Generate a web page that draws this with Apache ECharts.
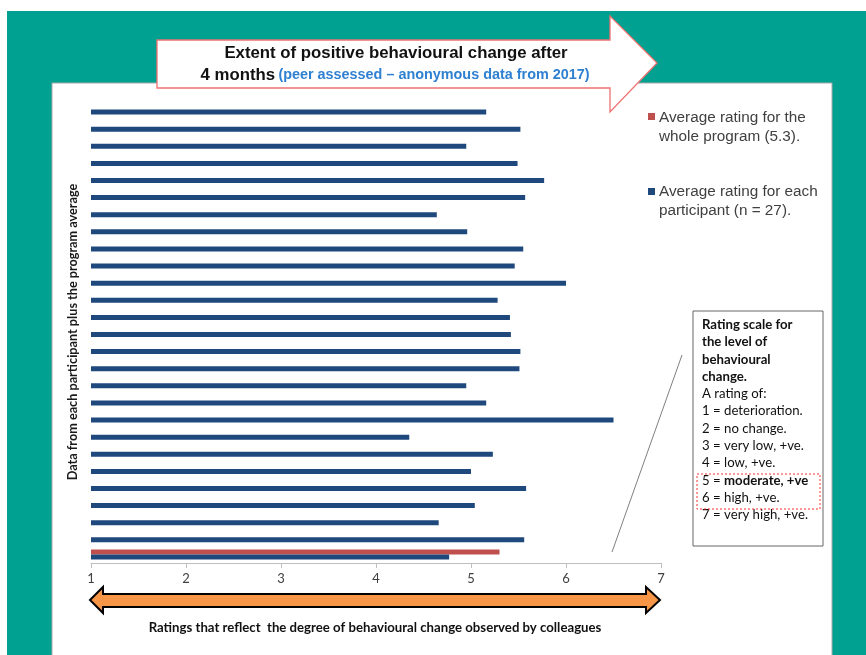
<!DOCTYPE html>
<html><head><meta charset="utf-8">
<script src="https://cdn.jsdelivr.net/npm/echarts@6/dist/echarts.min.js"></script>
<style>html,body{margin:0;padding:0;background:#fff}#c{width:866px;height:655px}</style>
</head><body><div id="c"></div>
<script>
// ---- data (top to bottom) ----
const categories = ['P1','P2','P3','P4','P5','P6','P7','P8','P9','P10','P11','P12','P13','P14',
  'P15','P16','P17','P18','P19','P20','P21','P22','P23','P24','P25','P26','P27 / Program'];
const participantRatings = [5.16,5.52,4.95,5.49,5.77,5.57,4.64,4.96,5.55,5.46,6.00,5.28,5.41,5.42,
  5.52,5.51,4.95,5.16,6.50,4.35,5.23,5.00,5.58,5.04,4.66,5.56,4.77];
const programAverage = [null,null,null,null,null,null,null,null,null,null,null,null,null,null,
  null,null,null,null,null,null,null,null,null,null,null,null,5.3];
const xTicks = [1,2,3,4,5,6,7];
const seriesNames = ['Average rating for the whole program (5.3).','Average rating for each participant (n = 27).'];
const legendLines = [['Average rating for the','whole program (5.3).'],['Average rating for each','participant (n = 27).']];
const titleLine1 = 'Extent of positive behavioural change after';
const titleLine2a = '4 months';
const titleLine2b = '(peer assessed \u2013 anonymous data from 2017)';
const yAxisTitle = 'Data from each participant plus the program average';
const xAxisTitle = 'Ratings that reflect  the degree of behavioural change observed by colleagues';
const scaleHeader = ['Rating scale for','the level of','behavioural','change.'];
const scaleIntro = 'A rating of:';
const scaleLines = ['1 = deterioration.','2 = no change.','3 = very low, +ve.','4 = low, +ve.','5 = |moderate, +ve','6 = high, +ve.','7 = very high, +ve.'];

const RED = '#C0504D', BLUE = '#1F497D', TEAL = '#00A190';
const CAL = 'Lato, "Open Sans", sans-serif';
const ARI = '"Liberation Sans", Arial, sans-serif';

// rich text for rating scale box
const scaleText = scaleHeader.map(s => '{h|' + s + '}')
  .concat(['{n|' + scaleIntro + '}'])
  .concat(scaleLines.map(s => {
    if (s.indexOf('|') >= 0) { const p = s.split('|'); return '{n|' + p[0] + '}{h|' + p[1] + '}'; }
    return '{n|' + s + '}';
  })).join('\n');

const chart = echarts.init(document.getElementById('c'), null, {renderer: 'canvas'});
chart.setOption({
  backgroundColor: '#ffffff',
  animation: false,
  grid: {left: 91, right: 205, top: 101, bottom: 92, containLabel: false},
  xAxis: {
    type: 'value', min: xTicks[0], max: xTicks[xTicks.length - 1], interval: 1,
    axisLine: {show: true, lineStyle: {color: '#BFBFBF', width: 1}},
    axisTick: {show: true, length: 5, lineStyle: {color: '#BFBFBF'}},
    splitLine: {show: false},
    axisLabel: {color: '#404040', fontFamily: CAL, fontSize: 13, margin: 9}
  },
  yAxis: {
    type: 'category', data: categories, inverse: true,
    axisLine: {show: false}, axisTick: {show: false}, axisLabel: {show: false},
    name: yAxisTitle, nameLocation: 'middle', nameRotate: 90, nameGap: 12,
    nameTextStyle: {fontFamily: CAL, fontWeight: 'bold', fontSize: 12.7, color: '#1a1a1a'}
  },
  series: [
    {name: seriesNames[0], type: 'bar', data: programAverage, barWidth: 5, barGap: '0%',
     itemStyle: {color: RED}},
    {name: seriesNames[1], type: 'bar', data: participantRatings, barWidth: 5, barGap: '0%',
     itemStyle: {color: BLUE}}
  ],
  graphic: [
    // backgrounds
    {type: 'rect', z: -20, shape: {x: 7, y: 11, width: 859, height: 644}, style: {fill: TEAL}},
    {type: 'rect', z: -19, shape: {x: 52, y: 83, width: 780, height: 580},
     style: {fill: '#ffffff', stroke: '#A8A8A8', lineWidth: 1}},
    // title arrow
    {type: 'polygon', z: 10, shape: {points: [[157,40],[610,40],[610,16],[657,63],[610,112],[610,88],[157,88]]},
     style: {fill: '#ffffff', stroke: '#F07070', lineWidth: 1.3}},
    {type: 'text', z: 11, style: {text: titleLine1, x: 396, y: 53, textAlign: 'center', textVerticalAlign: 'middle',
      font: 'bold 16.8px ' + ARI, fill: '#111'}},
    {type: 'text', z: 11, style: {text: '{a|' + titleLine2a + '} {b|' + titleLine2b + '}', x: 395, y: 75,
      textAlign: 'center', textVerticalAlign: 'middle',
      rich: {a: {font: 'bold 16.8px ' + ARI, fill: '#111'}, b: {font: 'bold 14.4px ' + ARI, fill: '#2F80D0'}}}},
    // legend
    {type: 'rect', z: 10, shape: {x: 648, y: 113, width: 7, height: 7}, style: {fill: RED}},
    {type: 'text', z: 10, style: {text: legendLines[0].join('\n'), x: 659, y: 108, font: '15.3px ' + ARI,
      fill: '#404040', lineHeight: 19}},
    {type: 'rect', z: 10, shape: {x: 648, y: 188, width: 7, height: 7}, style: {fill: BLUE}},
    {type: 'text', z: 10, style: {text: legendLines[1].join('\n'), x: 659, y: 182, font: '15.3px ' + ARI,
      fill: '#404040', lineHeight: 19}},
    // rating scale box
    {type: 'line', z: 10, shape: {x1: 612, y1: 552, x2: 682, y2: 355}, style: {stroke: '#808080', lineWidth: 1}},
    {type: 'rect', z: 10, shape: {x: 693, y: 311, width: 130, height: 235}, style: {fill: '#fff', stroke: '#666', lineWidth: 1}},
    {type: 'rect', z: 12, shape: {x: 697, y: 474, width: 123, height: 35},
     style: {fill: 'none', stroke: '#FF3030', lineWidth: 1, lineDash: [2, 2]}},
    {type: 'text', z: 11, style: {text: scaleText, x: 702, y: 316,
      rich: {h: {font: 'bold 13.2px ' + CAL, fill: '#111', lineHeight: 17.3},
             n: {font: '13.2px ' + CAL, fill: '#111', lineHeight: 17.3}}}},
    // orange double arrow
    {type: 'polygon', z: 10, shape: {points: [[90,600],[103,587],[103,594],[646,594],[646,587],[660,600],
      [646,613],[646,607],[103,607],[103,613]]},
     style: {fill: '#F79646', stroke: '#000', lineWidth: 2, lineJoin: 'miter'}},
    {type: 'text', z: 10, style: {text: xAxisTitle, x: 375, y: 628, textAlign: 'center', textVerticalAlign: 'middle',
      font: 'bold 13.2px ' + CAL, fill: '#111'}}
  ]
});
</script></body></html>
